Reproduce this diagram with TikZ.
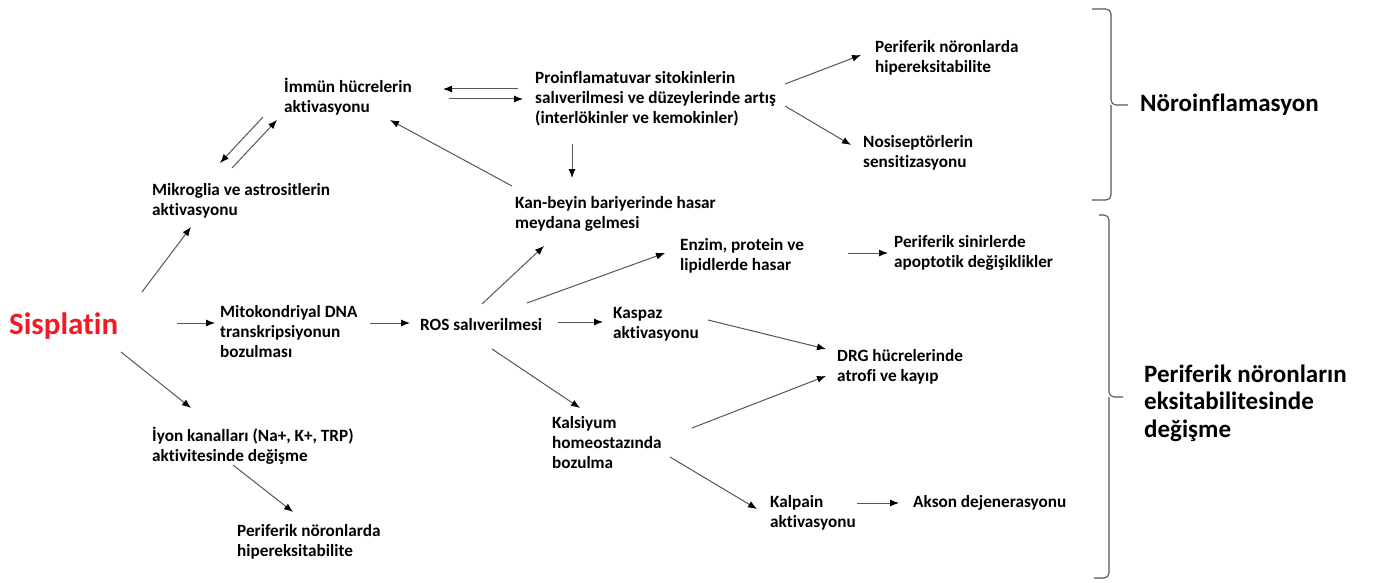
\documentclass[tikz,border=0pt]{standalone}
\usepackage{fontspec}
\setmainfont{Carlito}[Ligatures=NoCommon]
\usepackage{tikz}
\usetikzlibrary{arrows.meta}
\tikzset{>={Latex[length=9pt,width=7pt,color=black]}}
\definecolor{sisred}{HTML}{EE1C25}
\definecolor{linegray}{HTML}{555555}
\tikzset{
  lbl/.style={anchor=west, align=left, inner sep=0pt, font=\bfseries\fontsize{17.2}{20}\selectfont},
  biglbl/.style={lbl, font=\bfseries\fontsize{25}{27.5}\selectfont},
  arr/.style={->, draw=linegray, line width=1pt},
  bracket/.style={draw=linegray, line width=1.1pt, rounded corners=5pt}
}

\begin{document}
\begin{tikzpicture}[x=1pt, y=-1pt]
  \useasboundingbox (0,0) rectangle (1373,583);
  % left column
  \node[lbl, font=\bfseries\fontsize{31}{36}\selectfont, text=sisred] (sis) at (9,326) {Sisplatin};
  \node[lbl] (mik) at (152,201) {Mikroglia ve astrositlerin\\aktivasyonu};
  \node[lbl] (imm) at (284,97) {İmmün hücrelerin\\aktivasyonu};
  \node[lbl] (mito) at (220,332) {Mitokondriyal DNA\\transkripsiyonun\\bozulması};
  \node[lbl] (iyon) at (152,446) {İyon kanalları (Na+, K+, TRP)\\aktivitesinde değişme};
  \node[lbl] (per2) at (237,542) {Periferik nöronlarda\\hipereksitabilite};
  % middle
  \node[lbl] (pro) at (535,98.5) {Proinflamatuvar sitokinlerin\\salıverilmesi ve düzeylerinde artış\\(interlökinler ve kemokinler)};
  \node[lbl] (kan) at (515,214) {Kan-beyin bariyerinde hasar\\meydana gelmesi};
  \node[lbl] (ros) at (420,325) {ROS salıverilmesi};
  \node[lbl] (enz) at (680,256) {Enzim, protein ve\\lipidlerde hasar};
  \node[lbl] (kas) at (613,324.5) {Kaspaz\\aktivasyonu};
  \node[lbl] (kal) at (552,443) {Kalsiyum\\homeostazında\\bozulma};
  \node[lbl] (kpn) at (770,513) {Kalpain\\aktivasyonu};
  % right
  \node[lbl] (per1) at (875,58) {Periferik nöronlarda\\hipereksitabilite};
  \node[lbl] (nos) at (863,153) {Nosiseptörlerin\\sensitizasyonu};
  \node[lbl] (psin) at (894,253) {Periferik sinirlerde\\apoptotik değişiklikler};
  \node[lbl] (drg) at (837,367) {DRG hücrelerinde\\atrofi ve kayıp};
  \node[lbl] (aks) at (913,503) {Akson dejenerasyonu};
  \node[biglbl] (noro) at (1140,105) {Nöroinflamasyon};
  \node[biglbl] (pne) at (1144,403) {Periferik nöronların\\eksitabilitesinde\\değişme};

  % arrows
  \draw[arr] ([shift={(133,-34)}]sis.west) -- ([shift={(39,26)}]mik.west);
  \draw[arr] ([shift={(168,-3)}]sis.west) -- ([shift={(-5,-9)}]mito.west);
  \draw[arr] ([shift={(112,26)}]sis.west) -- ([shift={(39,-38)}]iyon.west);
  \draw[arr] ([shift={(-21,20)}]imm.west) -- ([shift={(68,-38)}]mik.west);
  \draw[arr] ([shift={(80,-33)}]mik.west) -- ([shift={(-7,23)}]imm.west);
  \draw[arr] ([shift={(-17,-9.5)}]pro.west) -- ([shift={(159,-8)}]imm.west);
  \draw[arr] ([shift={(165,2)}]imm.west) -- ([shift={(-12,0.5)}]pro.west);
  \draw[arr] ([shift={(37,45.5)}]pro.west) -- ([shift={(57,-36)}]kan.west);
  \draw[arr] ([shift={(-3,-28)}]kan.west) -- ([shift={(106,23)}]imm.west);
  \draw[arr] ([shift={(250,-14.5)}]pro.west) -- ([shift={(-14,-3)}]per1.west);
  \draw[arr] ([shift={(250,7.5)}]pro.west) -- ([shift={(-12,-8)}]nos.west);
  \draw[arr] ([shift={(150,-9)}]mito.west) -- ([shift={(-10,-2)}]ros.west);
  \draw[arr] ([shift={(62,-21)}]ros.west) -- ([shift={(29,32)}]kan.west);
  \draw[arr] ([shift={(107,-22)}]ros.west) -- ([shift={(-15,-3)}]enz.west);
  \draw[arr] ([shift={(138,-3)}]ros.west) -- ([shift={(-10,-2.5)}]kas.west);
  \draw[arr] ([shift={(72,24)}]ros.west) -- ([shift={(28,-35)}]kal.west);
  \draw[arr] ([shift={(168,-3)}]enz.west) -- ([shift={(-6,0)}]psin.west);
  \draw[arr] ([shift={(95,-4.5)}]kas.west) -- ([shift={(-11,-18)}]drg.west);
  \draw[arr] ([shift={(140,-15)}]kal.west) -- ([shift={(-11,9)}]drg.west);
  \draw[arr] ([shift={(118,14)}]kal.west) -- ([shift={(-13,-4)}]kpn.west);
  \draw[arr] ([shift={(87,-10)}]kpn.west) -- ([shift={(-14,0)}]aks.west);
  \draw[arr] ([shift={(81,19)}]iyon.west) -- ([shift={(56,-30)}]per2.west);

  % braces
  \draw[bracket] (1092,9) -- (1111,9) -- (1111,105) -- (1128,105);
  \draw[bracket] (1092,200) -- (1111,200) -- (1111,105);
  \draw[bracket] (1099,215) -- (1109,215) -- (1109,397) -- (1123,397);
  \draw[bracket] (1094,578) -- (1109,578) -- (1109,397);
\end{tikzpicture}
\end{document}
